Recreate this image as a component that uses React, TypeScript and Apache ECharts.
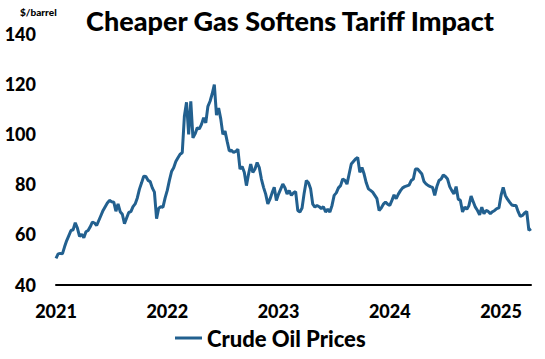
import React, { useEffect, useRef } from "react";
import * as echarts from "echarts";

const TITLE = "Cheaper Gas Softens Tariff Impact";
const UNIT = "$/barrel";
const SERIES_NAME = "Crude Oil Prices";
const START_DATE = "2021-01-08";

const yTicks = { min: 40, max: 140, interval: 20 };

// Weekly crude oil prices ($/barrel)
const prices2021 = [
  50.4, 52.2, 52.4, 52.2, 55.0, 57.5, 59.5, 61.5, 61.8, 64.6, 62.5, 59.2, 60.0,
  58.6, 61.0, 61.5, 63.0, 64.9, 64.5, 63.5, 65.5, 67.5, 69.5, 71.0, 72.5, 73.5,
  73.0, 72.8, 69.2, 72.1, 69.0, 68.0, 64.2, 66.5, 68.7, 69.0, 71.0, 72.1, 74.5,
  78.0, 80.5, 83.1, 83.0, 81.5, 81.0, 78.5, 76.8, 66.2, 70.4, 71.0, 70.8, 74.5,
];
const prices2022 = [
  77.5, 81.5, 85.0, 86.5, 89.0, 90.5, 91.9, 92.5, 107.0, 112.6, 99.8, 113.0,
  98.4, 100.0, 102.4, 102.0, 103.8, 106.4, 104.4, 111.0, 113.0, 116.0, 119.6,
  107.5, 110.3, 106.0, 99.8, 101.1, 97.0, 93.2, 93.5, 92.6, 93.0, 93.9, 86.0,
  87.0, 84.7, 79.4, 84.0, 88.0, 84.7, 86.0, 88.6, 86.6, 82.0, 78.7, 76.0, 72.1,
  74.0, 76.5, 78.7, 73.5,
];
const prices2023 = [
  76.0, 78.0, 80.0, 78.5, 76.1, 77.4, 75.5, 76.5, 77.0, 69.5, 68.9, 70.5, 76.5,
  81.4, 80.5, 78.1, 72.0, 70.8, 71.5, 71.0, 70.2, 71.0, 68.9, 70.0, 68.9, 71.5,
  75.5, 76.5, 78.5, 79.4, 82.0, 81.5, 80.0, 84.0, 88.0, 89.0, 90.0, 90.6, 84.7,
  86.6, 84.0, 80.5, 78.1, 77.5, 76.8, 75.5, 74.2, 69.5, 70.5, 72.0, 72.8, 72.0,
];
const prices2024 = [
  71.5, 73.5, 75.7, 74.2, 76.0, 77.4, 78.5, 79.0, 79.3, 79.6, 81.4, 82.0, 86.0,
  86.0, 85.0, 84.0, 81.0, 80.0, 79.4, 79.0, 78.7, 75.5, 79.0, 81.4, 82.0, 83.6,
  83.0, 82.0, 79.0, 77.4, 76.1, 79.0, 74.0, 73.5, 68.9, 70.8, 70.0, 71.5, 75.2,
  73.0, 70.8, 69.5, 67.8, 70.8, 68.2, 69.5, 69.1, 68.2, 69.0, 69.5, 70.2, 70.5,
];
const prices2025 = [
  75.5, 78.7, 75.5, 74.0, 72.8, 71.7, 71.5, 71.5, 69.0, 67.1, 67.5, 68.5, 69.1,
  61.6, 62.2,
];

const prices = [...prices2021, ...prices2022, ...prices2023, ...prices2024, ...prices2025];

// Weekly date categories
const dates: string[] = (() => {
  const out: string[] = [];
  const start = Date.parse(START_DATE + "T00:00:00Z");
  for (let i = 0; i < prices.length; i++) {
    out.push(new Date(start + i * 7 * 86400000).toISOString().slice(0, 10));
  }
  return out;
})();

const isYearStart = (i: number, d: string) =>
  i === 0 || (d.slice(5, 7) === "01" && Number(d.slice(8, 10)) <= 7);

const FONT = "Lato";
const W = 900;

export default function App() {
  const ref = useRef<HTMLDivElement>(null);
  useEffect(() => {
    if (!ref.current) return;
    const chart = echarts.init(ref.current, undefined, { renderer: "svg" });
    chart.setOption({
      animation: false,
      textStyle: { fontFamily: FONT },
      title: {
        text: TITLE,
        left: 285,
        textAlign: "center",
        top: 2,
        textStyle: { fontFamily: FONT, fontWeight: W, fontSize: 27, color: "#000" },
      },
      graphic: [
        {
          type: "text",
          left: 20,
          top: 7,
          style: { text: UNIT, fontFamily: FONT, fontWeight: W, fontSize: 10, fill: "#000" },
        },
      ],
      legend: {
        data: [SERIES_NAME],
        left: 175,
        top: 327,
        padding: 0,
        icon: "rect",
        itemWidth: 27,
        itemHeight: 3,
        itemGap: 10,
        textStyle: { fontFamily: FONT, fontWeight: W, fontSize: 22, color: "#000" },
      },
      grid: { left: 56, right: 14, top: 33.5, bottom: 74.5, containLabel: false },
      xAxis: {
        type: "category",
        data: dates,
        boundaryGap: false,
        axisLine: { lineStyle: { color: "#000", width: 2 } },
        axisTick: { show: false },
        axisLabel: {
          interval: (i: number, v: string) => isYearStart(i, v),
          formatter: (v: string) => v.slice(0, 4),
          margin: 17,
          fontFamily: FONT,
          fontWeight: W,
          fontSize: 18,
          color: "#000",
        },
        splitLine: { show: false },
      },
      yAxis: {
        type: "value",
        min: yTicks.min,
        max: yTicks.max,
        interval: yTicks.interval,
        axisLine: { show: false },
        axisTick: { show: false },
        splitLine: { show: false },
        axisLabel: {
          margin: 20,
          fontFamily: FONT,
          fontWeight: W,
          fontSize: 18,
          color: "#000",
        },
      },
      series: [
        {
          name: SERIES_NAME,
          type: "line",
          data: prices,
          showSymbol: false,
          symbol: "none",
          color: "#22608f",
          lineStyle: { width: 3, color: "#22608f" },
        },
      ],
    });
    return () => chart.dispose();
  }, []);
  return (
    <div
      ref={ref}
      style={{ position: "fixed", left: 0, top: 0, width: 545, height: 359, background: "#fff" }}
    />
  );
}
